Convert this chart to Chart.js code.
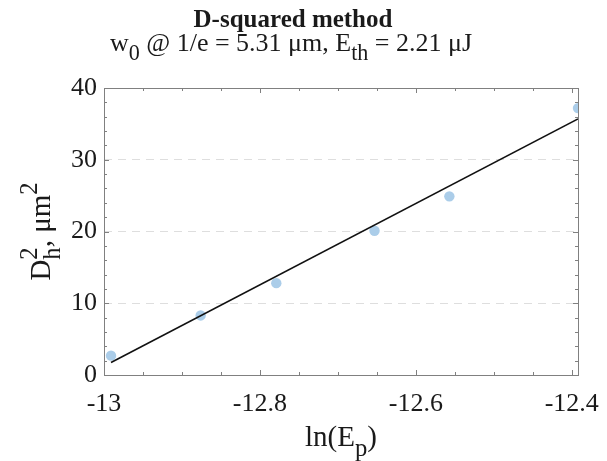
<!DOCTYPE html>
<html>
<head>
<meta charset="utf-8">
<script src="https://cdn.jsdelivr.net/npm/chart.js@4.4.0/dist/chart.umd.min.js"></script>
<style>
  html, body { margin: 0; padding: 0; background: #fff; }
  #wrap { width: 607px; height: 461px; }
</style>
</head>
<body>
<div id="wrap"><canvas id="chart" width="607" height="461"></canvas></div>
<script>
// Measured points (ln of pulse energy vs squared crater diameter)
const lnEp = [-12.991, -12.876, -12.779, -12.653, -12.557, -12.392];
const dSquared = [2.7, 8.3, 12.8, 20.1, 24.9, 37.2];

// Linear fit endpoints
const fitX = [-12.991, -12.392];
const fitY = [1.74, 35.7];

const xTicks = [-13, -12.8, -12.6, -12.4];
const yTicks = [0, 10, 20, 30, 40];

const FONT = "'Liberation Serif', 'Times New Roman', serif";
const TEXT = "#1a1a1a";
const AXIS = "#808080";
const TITLE_X = 293; // titles sit a bit left of the plot centre

// draw text with sub/superscripts, segments like {t, sub, sup}
function richWidth(ctx, segs, size, weight) {
  let w = 0;
  segs.forEach(s => {
    ctx.font = `${weight} ${size}px ${FONT}`;
    w += ctx.measureText(s.t).width;
    ctx.font = `${weight} ${size * 0.85}px ${FONT}`;
    const a = s.sub ? ctx.measureText(s.sub).width : 0;
    const b = s.sup ? ctx.measureText(s.sup).width : 0;
    w += Math.max(a, b);
  });
  return w;
}

function drawRich(ctx, segs, cx, baseY, size, weight) {
  let x = cx - richWidth(ctx, segs, size, weight) / 2;
  ctx.fillStyle = TEXT;
  ctx.textAlign = "left";
  ctx.textBaseline = "alphabetic";
  segs.forEach(s => {
    ctx.font = `${weight} ${size}px ${FONT}`;
    ctx.fillText(s.t, x, baseY);
    x += ctx.measureText(s.t).width;
    ctx.font = `${weight} ${size * 0.85}px ${FONT}`;
    let a = 0, b = 0;
    if (s.sub) { ctx.fillText(s.sub, x, baseY + size * 0.33); a = ctx.measureText(s.sub).width; }
    if (s.sup) { ctx.fillText(s.sup, x, baseY - size * 0.45); b = ctx.measureText(s.sup).width; }
    x += Math.max(a, b);
  });
}

const decorations = {
  id: "decorations",
  afterDraw(chart) {
    const ctx = chart.ctx;
    const area = chart.chartArea;
    const xs = chart.scales.x;
    const ys = chart.scales.y;
    ctx.save();

    // box
    ctx.strokeStyle = AXIS;
    ctx.lineWidth = 1;
    ctx.setLineDash([]);
    ctx.strokeRect(area.left + 0.5, area.top + 0.5, area.right - area.left, area.bottom - area.top);

    // inward ticks, major and minor
    ctx.beginPath();
    for (let v = -13; v <= -12.39; v += 0.05) {
      const px = Math.round(xs.getPixelForValue(v)) + 0.5;
      const major = Math.abs(v * 5 - Math.round(v * 5)) < 1e-6;
      const len = major ? 5 : 3;
      ctx.moveTo(px, area.bottom); ctx.lineTo(px, area.bottom - len);
      ctx.moveTo(px, area.top); ctx.lineTo(px, area.top + len);
    }
    for (let v = 0; v <= 40; v += 2) {
      const py = Math.round(ys.getPixelForValue(v)) + 0.5;
      const len = v % 10 === 0 ? 5 : 3;
      ctx.moveTo(area.left, py); ctx.lineTo(area.left + len, py);
      ctx.moveTo(area.right, py); ctx.lineTo(area.right - len, py);
    }
    ctx.stroke();

    const mid = (area.left + area.right) / 2;

    // titles
    drawRich(ctx, [{ t: "D-squared method" }], TITLE_X, 27, 25, "bold");
    drawRich(ctx, [
      { t: "w", sub: "0" },
      { t: " @ 1/e = 5.31 \u03bcm, E", sub: "th" },
      { t: " = 2.21 \u03bcJ" }
    ], TITLE_X - 2, 51, 26, "normal");

    // x axis title
    drawRich(ctx, [{ t: "ln(E", sub: "p" }, { t: ")" }], mid, 446, 29, "normal");

    // y axis title, rotated
    ctx.save();
    ctx.translate(50, (area.top + area.bottom) / 2);
    ctx.rotate(-Math.PI / 2);
    drawRich(ctx, [{ t: "D", sub: "h", sup: "2" }, { t: ", \u03bcm", sup: "2" }], 0, 0, 29, "normal");
    ctx.restore();

    ctx.restore();
  }
};

const fitPoints = fitX.map((x, i) => ({ x: x, y: fitY[i] }));
const dataPoints = lnEp.map((x, i) => ({ x: x, y: dSquared[i] }));

new Chart(document.getElementById("chart"), {
  type: "scatter",
  data: {
    datasets: [
      {
        type: "line",
        data: fitPoints,
        borderColor: "#111",
        borderWidth: 1.6,
        pointRadius: 0,
        fill: false
      },
      {
        data: dataPoints,
        backgroundColor: "#abcde9",
        borderWidth: 0,
        pointRadius: 5.2
      }
    ]
  },
  options: {
    responsive: false,
    animation: false,
    layout: { padding: { left: 60, top: 88, right: 29, bottom: 0 } },
    plugins: {
      legend: { display: false },
      tooltip: { enabled: false },
      title: { display: false }
    },
    scales: {
      x: {
        type: "linear",
        min: -13,
        max: -12.392,
        afterFit: s => { s.height = 86; s.paddingLeft = 0; s.paddingRight = 0; },
        afterBuildTicks: s => { s.ticks = xTicks.map(v => ({ value: v })); },
        grid: { display: false, drawTicks: false },
        border: { display: false },
        ticks: {
          padding: 14,
          color: TEXT,
          font: { family: FONT, size: 26 },
          callback: v => String(Math.round(v * 10) / 10)
        }
      },
      y: {
        min: 0,
        max: 40,
        afterFit: s => { s.width = 44; s.paddingTop = 0; s.paddingBottom = 0; },
        afterBuildTicks: s => { s.ticks = yTicks.map(v => ({ value: v })); },
        grid: {
          drawTicks: false,
          color: c => (c.tick && (c.tick.value === 0 || c.tick.value === 40)) ? "rgba(0,0,0,0)" : "#dedede",
          lineWidth: 1
        },
        border: { display: false, dash: [8, 6] },
        ticks: {
          padding: 7,
          color: TEXT,
          font: { family: FONT, size: 26 }
        }
      }
    }
  },
  plugins: [decorations]
});
</script>
</body>
</html>
